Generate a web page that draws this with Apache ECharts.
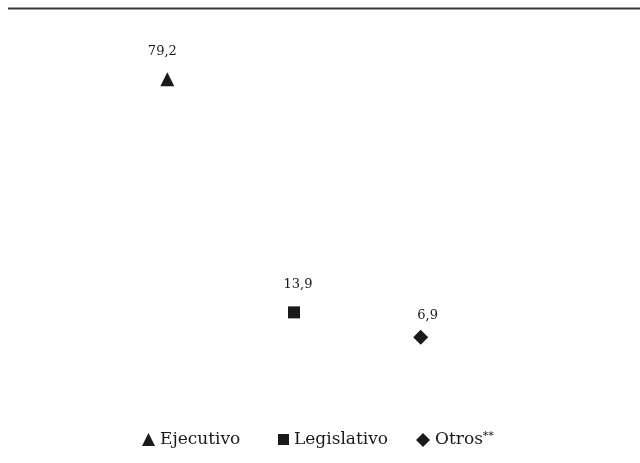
<!DOCTYPE html>
<html>
<head>
<meta charset="utf-8">
<script src="https://cdn.jsdelivr.net/npm/echarts@6/dist/echarts.min.js"></script>
<style>
  html, body { margin: 0; padding: 0; background: #fff; }
  #chart { width: 640px; height: 463px; }
</style>
</head>
<body>
<div id="chart"></div>
<script>
// categorias y valores (%)
const categories = ["Ejecutivo", "Legislativo", "Otros"];
const values = [79.2, 13.9, 6.9];
const valueLabels = ["79,2", "13,9", "6,9"];
const legendNames = ["Ejecutivo", "Legislativo", "Otros{sup|**}"];

// estilos de cada serie
const symbols = ["triangle", "rect", "diamond"];
const symbolSizes = [14, 12, 15];
const labelOffsets = [[-5, -28], [4, -28], [7, -22]];
const legendLefts = [142, 278, 416];

const font = "DejaVu Serif";
const ink = "#1a1a1a";

const myChart = echarts.init(document.getElementById("chart"));

const series = categories.map((name, i) => ({
  name: name,
  type: "scatter",
  symbol: symbols[i],
  symbolSize: symbolSizes[i],
  itemStyle: { color: ink, opacity: 1 },
  label: {
    show: true,
    position: "inside",
    offset: labelOffsets[i],
    formatter: () => valueLabels[i],
    color: ink,
    fontFamily: font,
    fontSize: 13,
  },
  data: [[name, values[i]]],
}));

const legends = categories.map((name, i) => ({
  data: [name],
  left: legendLefts[i],
  top: 431,
  padding: 0,
  itemWidth: symbolSizes[i] - 1,
  itemHeight: symbolSizes[i] - 1,
  formatter: () => legendNames[i],
  textStyle: {
    color: ink,
    fontFamily: font,
    fontSize: 17,
    rich: {
      sup: { fontFamily: font, fontSize: 11, color: ink, verticalAlign: "top", padding: [0, 0, 7, 0] },
    },
  },
}));

let option = {
  animation: false,
  grid: { left: 104, right: 156, top: 5, bottom: 101 },
  xAxis: {
    type: "category",
    data: categories,
    show: false,
  },
  yAxis: {
    type: "value",
    min: 0,
    max: 100,
    show: false,
  },
  legend: legends,
  graphic: [
    {
      type: "line",
      shape: { x1: 8, y1: 8.5, x2: 640, y2: 8.5 },
      style: { stroke: "#3a3a3a", lineWidth: 2 },
    },
  ],
  series: series,
};

option && myChart.setOption(option);
window.addEventListener("resize", function () {
  myChart.resize();
});
</script>
</body>
</html>
